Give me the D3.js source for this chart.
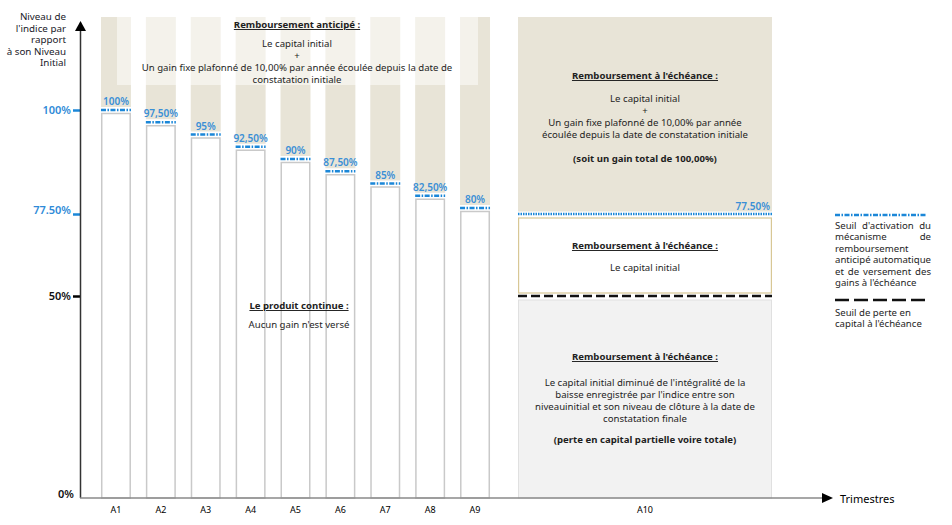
<!DOCTYPE html>
<html><head><meta charset="utf-8">
<script src="https://cdn.jsdelivr.net/npm/d3@7"></script>
<style>body{margin:0;background:#fff}svg{display:block;font-family:"Noto Sans",sans-serif}</style>
</head><body><svg id="c" width="952" height="525"></svg>
<script>
// ---- data ----
const categories = ["A1","A2","A3","A4","A5","A6","A7","A8","A9","A10"];
const barLevels = [100,97.5,95,92.5,90,87.5,85,82.5,80];
const barLabels = ["100%","97,50%","95%","92,50%","90%","87,50%","85%","82,50%","80%"];
const finalThreshold = 77.5;
const finalThresholdLabel = "77.50%";
const lossThreshold = 50;
const yTickValues = [0,50,77.5,100];
const yTickLabels = ["0%","50%","77.50%","100%"];
const yTickBlue = [false,false,true,true];
const yTitle = ["Niveau de","l'indice par","rapport","à son Niveau","Initial"];
const xTitle = "Trimestres";

const svg = d3.select("#c");
const BLUE = "#1b87d8", BEIGE = "#e8e4d7", TXT = "#1e1e1e";
const FS = 9.6;
const y = d3.scaleLinear().domain([0,50,77.5,80,100]).range([498,296,214,208,110]);
const x = d3.scaleBand().domain(categories.slice(0,9)).range([92,499]).paddingInner(0.332).paddingOuter(0.2);
const x10 = d3.scaleBand().domain(categories.slice(9)).range([518,772]);
const TOP = 17, BASE = y(0);
const bw = x.bandwidth();
const dashBlue = "5,1.5,1.5,1.5";

// beige columns
svg.append("g").selectAll("rect").data(barLevels).join("rect")
  .attr("x",(d,i)=>x(categories[i])).attr("y",TOP)
  .attr("width",bw).attr("height",d=>y(d)-3-TOP).attr("fill",BEIGE);
// A10 beige
svg.append("rect").attr("x",x10("A10")).attr("y",TOP).attr("width",x10.bandwidth())
  .attr("height",y(finalThreshold)-2.5-TOP).attr("fill",BEIGE);
// light overlay for early redemption text
svg.append("rect").attr("x",117).attr("y",TOP).attr("width",361).attr("height",68)
  .attr("fill","#fff").attr("opacity",0.5);

// bars
svg.append("g").selectAll("rect").data(barLevels).join("rect")
  .attr("x",(d,i)=>x(categories[i])+0.75).attr("y",d=>y(d)+3.5)
  .attr("width",bw-1.5).attr("height",d=>BASE-y(d)-3.5)
  .attr("fill","#fff").attr("stroke","#c9c9c9").attr("stroke-width",1.5);
// dotted thresholds
svg.append("g").selectAll("line").data(barLevels).join("line")
  .attr("x1",(d,i)=>x(categories[i])).attr("x2",(d,i)=>x(categories[i])+bw)
  .attr("y1",d=>y(d)).attr("y2",d=>y(d))
  .attr("stroke",BLUE).attr("stroke-width",2.5).attr("stroke-dasharray",dashBlue);
svg.append("g").selectAll("text").data(barLevels).join("text")
  .attr("x",(d,i)=>x(categories[i])+bw/2).attr("y",d=>y(d)-5)
  .attr("text-anchor","middle").attr("font-size",10).attr("font-weight",600)
  .attr("fill","#3a8fd6").text((d,i)=>barLabels[i]);

// A10 structure
const a10x = x10("A10"), a10w = x10.bandwidth();
svg.append("line").attr("x1",a10x).attr("x2",a10x+a10w).attr("y1",y(finalThreshold)).attr("y2",y(finalThreshold))
  .attr("stroke",BLUE).attr("stroke-width",2.5).attr("stroke-dasharray","1.5,1");
svg.append("text").attr("x",a10x+a10w-2).attr("y",y(finalThreshold)-4).attr("text-anchor","end")
  .attr("font-size",10).attr("font-weight",600).attr("fill","#3a8fd6").text(finalThresholdLabel);
svg.append("rect").attr("x",a10x+0.6).attr("y",y(finalThreshold)+4).attr("width",a10w-1.2)
  .attr("height",y(lossThreshold)-3-(y(finalThreshold)+4))
  .attr("fill","#fff").attr("stroke","#d8c795").attr("stroke-width",1.2);
svg.append("rect").attr("x",a10x+0.5).attr("y",y(lossThreshold)+4).attr("width",a10w-1)
  .attr("height",BASE-y(lossThreshold)-4)
  .attr("fill","#f2f2f2").attr("stroke","#e0e0e0").attr("stroke-width",1);
svg.append("line").attr("x1",a10x).attr("x2",a10x+a10w).attr("y1",y(lossThreshold)).attr("y2",y(lossThreshold))
  .attr("stroke","#111").attr("stroke-width",2.5).attr("stroke-dasharray","9,4");

// axes
const yAxis = d3.axisLeft(y).tickValues(yTickValues).tickSize(7).tickPadding(2)
  .tickFormat((d,i)=>yTickLabels[i]);
const gy = svg.append("g").attr("transform","translate(80,0)").call(yAxis);
gy.select(".domain").remove();
gy.selectAll(".tick line").attr("stroke",(d,i)=>yTickBlue[i]?BLUE:"#000").attr("stroke-width",2.5)
  .attr("display",d=>d===0?"none":null);
gy.selectAll(".tick text").attr("fill",(d,i)=>yTickBlue[i]?"#2f8bd8":"#111")
  .attr("font-size",11).attr("font-weight",600).attr("font-family","Noto Sans")
  .attr("dx",d=>d===0?"3":"0")
  .attr("dy",d=>d===0?"-0.05em":(d===77.5?"-0.05em":"0.32em"));
svg.append("line").attr("x1",80.5).attr("x2",80.5).attr("y1",28).attr("y2",BASE).attr("stroke","#333").attr("stroke-width",1.5);
svg.append("path").attr("d","M75,31 L80.5,21 L86,31Z").attr("fill","#000");

const xAxis = d3.axisBottom(x).tickSize(0).tickPadding(9);
const gx = svg.append("g").attr("transform",`translate(0,${BASE})`).call(xAxis);
const gx10 = svg.append("g").attr("transform",`translate(0,${BASE})`).call(d3.axisBottom(x10).tickSize(0).tickPadding(9));
[gx,gx10].forEach(g=>{g.select(".domain").remove();
  g.selectAll(".tick text").attr("font-size",9).attr("font-family","Noto Sans").attr("fill","#000");});
svg.append("line").attr("x1",80).attr("x2",823).attr("y1",BASE).attr("y2",BASE).attr("stroke","#8a8a8a").attr("stroke-width",1.5);
svg.append("path").attr("d",`M822,${BASE-5} L833,${BASE} L822,${BASE+5}Z`).attr("fill","#000");
svg.append("text").attr("x",840).attr("y",BASE+5).attr("font-size",11).attr("fill","#000").text(xTitle);

// y title
svg.append("g").selectAll("text").data(yTitle).join("text")
  .attr("x",66).attr("y",(d,i)=>20+i*11.6).attr("text-anchor","end")
  .attr("font-size",9.8).attr("fill","#1a1a2a").text(d=>d);

// text blocks
function block(cx, lines){
  const g = svg.append("g");
  lines.forEach(l=>{
    g.append("text").attr("x",cx).attr("y",l[1]).attr("text-anchor","middle")
      .attr("font-size",FS).attr("fill",TXT)
      .attr("font-weight",l[2]?"bold":null)
      .style("text-decoration",l[3]?"underline":null).text(l[0]);
  });
}
block(297,[["Remboursement anticipé :",28,1,1],["Le capital initial",47],["+",59],
  ["Un gain fixe plafonné de 10,00% par année écoulée depuis la date de",71],["constatation initiale",83]]);
block(645,[["Remboursement à l'échéance :",79,1,1],["Le capital initial",102],["+",114],
  ["Un gain fixe plafonné de 10,00% par année",126],["écoulée depuis la date de constatation initiale",138],
  ["(soit un gain total de 100,00%)",162,1]]);
block(645,[["Remboursement à l'échéance :",249,1,1],["Le capital initial",271]]);
block(645,[["Remboursement à l'échéance :",360,1,1],
  ["Le capital initial diminué de l'intégralité de la",386],
  ["baisse enregistrée par l'indice entre son",398],
  ["niveauinitial et son niveau de clôture à la date de",410],
  ["constatation finale",422],
  ["(perte en capital partielle voire totale)",443,1]]);
block(299,[["Le produit continue :",309,1,1],["Aucun gain n'est versé",328]]);

// legend
const LX = 835, LR = 931;
svg.append("line").attr("x1",LX).attr("x2",927).attr("y1",215).attr("y2",215)
  .attr("stroke",BLUE).attr("stroke-width",2.5).attr("stroke-dasharray",dashBlue);
svg.append("line").attr("x1",LX).attr("x2",925).attr("y1",300).attr("y2",300)
  .attr("stroke","#111").attr("stroke-width",2.5).attr("stroke-dasharray","14,5");
function justified(lines, y0, lh){
  lines.forEach((l,i)=>{
    const yy = y0+i*lh;
    const words = l[0].split(" ");
    if(!l[1] || words.length<2){
      svg.append("text").attr("x",LX).attr("y",yy).attr("font-size",FS).attr("fill",TXT).text(l[0]);
      return;
    }
    const ts = words.map(w=>svg.append("text").attr("y",yy).attr("font-size",FS).attr("fill",TXT).text(w));
    const widths = ts.map(t=>t.node().getComputedTextLength());
    const gap = (LR-LX-d3.sum(widths))/(words.length-1);
    let cx = LX;
    ts.forEach((t,k)=>{t.attr("x",cx); cx += widths[k]+gap;});
  });
}
justified([["Seuil d'activation du",1],["mécanisme de",1],["remboursement",0],
  ["anticipé automatique",1],["et de versement des",1],["gains à l'échéance",0]],229,11.4);
justified([["Seuil de perte en",0],["capital à l'échéance",0]],316,11.4);
</script></body></html>
